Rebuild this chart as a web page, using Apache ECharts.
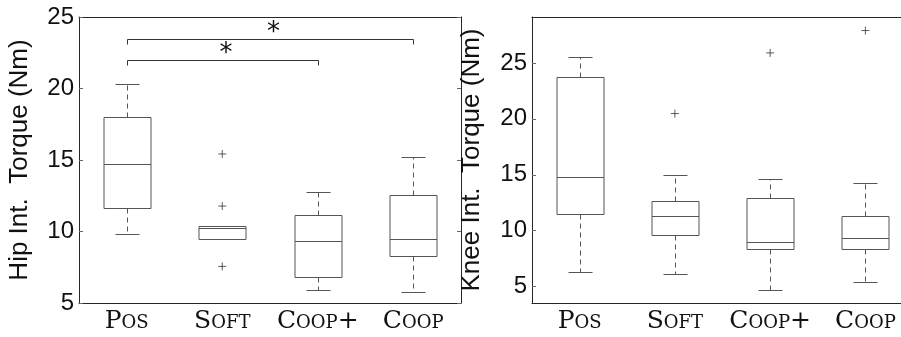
<!DOCTYPE html>
<html><head><meta charset="utf-8">
<script src="https://cdn.jsdelivr.net/npm/echarts@6/dist/echarts.min.js"></script>
<style>html,body{margin:0;padding:0;background:#fff}#c{width:901px;height:337px}</style>
</head><body><div id="c"></div>
<script>
const categories = ['Pos', 'Soft', 'Coop+', 'Coop'];
// each row: [low whisker, Q1, median, Q3, high whisker]
const hipBoxes = [
  [9.82, 11.66, 14.7, 17.98, 20.3],
  [9.47, 9.47, 10.22, 10.36, 10.36],
  [5.93, 6.84, 9.34, 11.17, 12.76],
  [5.79, 8.29, 9.45, 12.55, 15.23]
];
const hipOutliers = [[1, 15.42], [1, 11.78], [1, 7.56]];
const kneeBoxes = [
  [6.28, 11.52, 14.83, 23.78, 25.56],
  [6.13, 9.62, 11.29, 12.63, 15.01],
  [4.7, 8.36, 8.99, 12.9, 14.62],
  [5.38, 8.39, 9.32, 11.31, 14.27]
];
const kneeOutliers = [[1, 20.47], [2, 25.89], [3, 27.89]];
const hipTicks = [5, 10, 15, 20, 25];
const kneeTicks = [5, 10, 15, 20, 25];
// significance brackets: [from category, to category, height]
const hipBrackets = [[0, 2, 21.97], [0, 3, 23.46]];
const hipBracketLabels = ['*', '*'];

const AX = '#262626', BOX = '#555';
const chart = echarts.init(document.getElementById('c'), null, {renderer: 'canvas'});

function renderBox(params, api) {
  const c = api.value(0);
  const lo = api.coord([c, api.value(1)]);
  const q1 = api.coord([c, api.value(2)]);
  const md = api.coord([c, api.value(3)]);
  const q3 = api.coord([c, api.value(4)]);
  const hi = api.coord([c, api.value(5)]);
  const band = api.size([1, 0])[0];
  const bw = Math.round(band * 0.49), cw = Math.round(bw * 0.5);
  const x = Math.round(lo[0]) + 0.5;
  const r = v => Math.round(v) + 0.5;
  const st = {stroke: BOX, lineWidth: 1, fill: null};
  const dash = {stroke: BOX, lineWidth: 1, fill: null, lineDash: [5, 4]};
  return {
    type: 'group',
    children: [
      {type: 'line', shape: {x1: x, y1: r(q3[1]), x2: x, y2: r(hi[1])}, style: dash},
      {type: 'line', shape: {x1: x, y1: r(q1[1]), x2: x, y2: r(lo[1])}, style: dash},
      {type: 'line', shape: {x1: x - cw / 2, y1: r(hi[1]), x2: x + cw / 2, y2: r(hi[1])}, style: st},
      {type: 'line', shape: {x1: x - cw / 2, y1: r(lo[1]), x2: x + cw / 2, y2: r(lo[1])}, style: st},
      {type: 'rect', shape: {x: x - bw / 2, y: r(q3[1]), width: bw, height: Math.round(q1[1]) - Math.round(q3[1])}, style: {stroke: BOX, lineWidth: 1, fill: '#fff'}},
      {type: 'line', shape: {x1: x - bw / 2, y1: r(md[1]), x2: x + bw / 2, y2: r(md[1])}, style: st}
    ]
  };
}

function renderBracket(params, api) {
  const p1 = api.coord([api.value(0), api.value(2)]);
  const p2 = api.coord([api.value(1), api.value(2)]);
  const y = Math.round(p1[1]) + 0.5;
  const x1 = Math.round(p1[0]) + 0.5, x2 = Math.round(p2[0]) + 0.5;
  return {
    type: 'group',
    children: [
      {type: 'polyline', shape: {points: [[x1, y + 5], [x1, y], [x2, y], [x2, y + 5]]},
       style: {stroke: '#333', lineWidth: 1, fill: null}},
      {type: 'text', style: {text: hipBracketLabels[params.dataIndex], x: (x1 + x2) / 2 + 3, y: y - 6,
        align: 'center', verticalAlign: 'middle', font: '26px "DejaVu Sans"', fill: '#111'}}
    ]
  };
}

const plusSymbol = 'path://M0,5L10,5M5,0L5,10';
const catLabel = {fontFamily: 'DejaVu Serif', fontSize: 25, color: '#111', fontStyle: 'small-caps',
  margin: 6, interval: 0, hideOverlap: false};
const valLabel = {fontFamily: 'Liberation Sans', fontSize: 24, color: '#111', margin: 5};
const nameStyle = {fontFamily: 'Liberation Sans', fontSize: 26, color: '#111'};

function xAxes(gi) {
  return [
    {gridIndex: gi, type: 'category', data: categories, boundaryGap: true,
     axisLine: {lineStyle: {color: AX, width: 1}}, axisTick: {show: false}, axisLabel: catLabel},
    {gridIndex: gi, type: 'category', data: categories, position: 'top', boundaryGap: true,
     axisLine: {lineStyle: {color: AX, width: 1}}, axisTick: {show: false}, axisLabel: {show: false}}
  ];
}

const option = {
  animation: false,
  backgroundColor: '#fff',
  grid: [
    {left: 79, top: 17, width: 382, height: 286, outerBoundsMode: 'none', containLabel: false},
    {left: 532, top: 17, width: 381, height: 286, outerBoundsMode: 'none', containLabel: false}
  ],
  xAxis: [...xAxes(0), ...xAxes(1)],
  yAxis: [
    {gridIndex: 0, type: 'value', min: 5, max: 25, interval: 5,
     name: 'Hip Int.  Torque (Nm)', nameLocation: 'middle', nameGap: 46, nameTextStyle: nameStyle,
     axisLine: {show: true, lineStyle: {color: AX}}, axisTick: {show: true, inside: true, length: 4, lineStyle: {color: '#666'}},
     splitLine: {show: false}, axisLabel: Object.assign({customValues: hipTicks}, valLabel)},
    {gridIndex: 0, type: 'value', min: 5, max: 25, interval: 5, position: 'right',
     axisLine: {show: true, lineStyle: {color: AX}}, axisTick: {show: true, inside: true, length: 4, lineStyle: {color: '#666'}},
     splitLine: {show: false}, axisLabel: {show: false}},
    {gridIndex: 1, type: 'value', min: 3.54, max: 29.1,
     name: 'Knee Int.  Torque (Nm)', nameLocation: 'middle', nameGap: 47, nameTextStyle: nameStyle,
     axisLine: {show: true, lineStyle: {color: AX}},
     axisTick: {show: true, inside: true, length: 4, customValues: kneeTicks, lineStyle: {color: '#666'}},
     splitLine: {show: false}, axisLabel: Object.assign({customValues: kneeTicks}, valLabel)},
    {gridIndex: 1, type: 'value', min: 3.54, max: 29.1, position: 'right',
     axisLine: {show: true, lineStyle: {color: AX}}, axisTick: {show: false},
     splitLine: {show: false}, axisLabel: {show: false}}
  ],
  series: [
    {type: 'custom', xAxisIndex: 0, yAxisIndex: 0, renderItem: renderBox,
     encode: {x: 0, y: [1, 2, 3, 4, 5]}, data: hipBoxes.map((b, i) => [i, ...b]), z: 2},
    {type: 'scatter', xAxisIndex: 0, yAxisIndex: 0, data: hipOutliers, symbol: plusSymbol, symbolSize: 8,
     itemStyle: {color: 'none', borderColor: '#333', borderWidth: 1}, z: 3},
    {type: 'custom', xAxisIndex: 0, yAxisIndex: 0, renderItem: renderBracket,
     encode: {x: [0, 1], y: 2}, data: hipBrackets, z: 4},
    {type: 'custom', xAxisIndex: 2, yAxisIndex: 2, renderItem: renderBox,
     encode: {x: 0, y: [1, 2, 3, 4, 5]}, data: kneeBoxes.map((b, i) => [i, ...b]), z: 2},
    {type: 'scatter', xAxisIndex: 2, yAxisIndex: 2, data: kneeOutliers, symbol: plusSymbol, symbolSize: 8,
     itemStyle: {color: 'none', borderColor: '#333', borderWidth: 1}, z: 3}
  ]
};
chart.setOption(option);
</script>
</body></html>
